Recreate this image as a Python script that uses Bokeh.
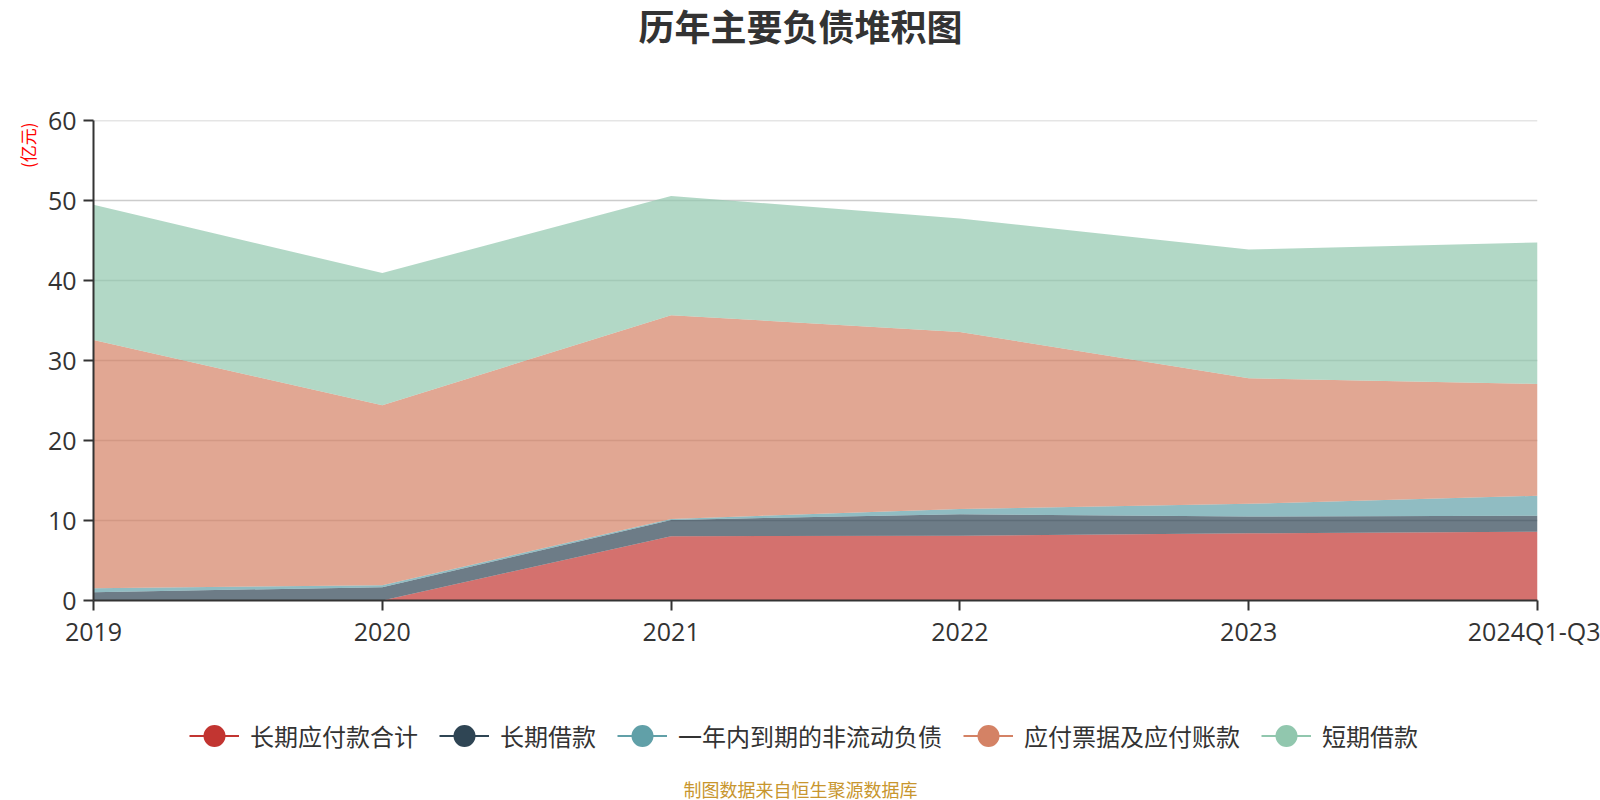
from bokeh.plotting import figure
from bokeh.layouts import column
from bokeh.models import (ColumnDataSource, Range1d, FixedTicker, Legend, LegendItem, Label, Title)
from bokeh.embed import file_html
from bokeh.resources import INLINE

# ---- data (亿元) ----
categories = ["2019", "2020", "2021", "2022", "2023", "2024Q1-Q3"]
series_names = ["长期应付款合计", "长期借款", "一年内到期的非流动负债", "应付票据及应付账款", "短期借款"]
long_term_payables = [0.0, 0.0, 8.05, 8.1, 8.4, 8.6]
long_term_loans = [1.04, 1.67, 2.03, 2.7, 2.1, 2.0]
current_noncurrent = [0.5, 0.25, 0.12, 0.65, 1.6, 2.5]
notes_accounts_payable = [31.06, 22.5, 25.5, 22.15, 15.7, 14.0]
short_term_loans = [16.9, 16.55, 14.9, 14.2, 16.1, 17.7]
colors = ["#c23531", "#2f4554", "#61a0a8", "#d48265", "#91c7ae"]
y_ticks = [0, 10, 20, 30, 40, 50, 60]

W = 1600
LEFT = 93    # frame left edge (frames of the column are aligned)
CJK = "Noto Sans CJK SC"

# ---- header with title ----
head = figure(width=W, height=100, output_backend="svg", toolbar_location=None,
              x_axis_type=None, y_axis_type=None, min_border=0,
              x_range=Range1d(0, 1), y_range=Range1d(0, 1))
head.outline_line_color = None
head.grid.visible = False
head.add_layout(Label(x=800 - LEFT, y=76, x_units="screen", y_units="screen", text="历年主要负债堆积图",
                      text_align="center", text_baseline="middle", text_font=CJK,
                      text_font_size="36px", text_font_style="bold", text_color="#333333"))

# ---- main chart ----
keys = ["s0", "s1", "s2", "s3", "s4"]
xs = list(range(len(categories)))
source = ColumnDataSource(dict(
    x=xs,
    s0=long_term_payables,
    s1=long_term_loans,
    s2=current_noncurrent,
    s3=notes_accounts_payable,
    s4=short_term_loans,
))

p = figure(width=W, height=560, output_backend="svg", toolbar_location=None,
           x_range=Range1d(0, len(categories) - 1), y_range=Range1d(0, 60.05),
           min_border_left=LEFT, min_border_right=63, min_border_top=20, min_border_bottom=60)
p.outline_line_color = None

p.varea_stack(stackers=keys, x="x", color=colors, fill_alpha=0.7, source=source)

p.xaxis.ticker = FixedTicker(ticks=xs)
p.xaxis.major_label_overrides = {i: c for i, c in enumerate(categories)}
p.yaxis.ticker = FixedTicker(ticks=y_ticks)
for ax in (p.xaxis[0], p.yaxis[0]):
    ax.axis_line_color = "#333333"
    ax.axis_line_width = 2
    ax.major_tick_line_color = "#333333"
    ax.major_tick_line_width = 2
    ax.major_tick_in = 0
    ax.major_tick_out = 10
    ax.minor_tick_line_color = None
    ax.major_label_text_font = "Open Sans"
    ax.major_label_text_font_size = "25px"
    ax.major_label_text_color = "#333333"
p.xaxis.major_label_standoff = 3
p.yaxis.major_label_standoff = 7

p.xgrid.grid_line_color = None
p.ygrid.grid_line_color = "#cccccc"
p.ygrid.grid_line_width = 1.5

p.add_layout(Title(text="(亿元)", align="right", offset=2, text_font=CJK, text_font_size="17px",
                   text_font_style="normal", text_color="#ff0000"), "left")

# ---- footer with legend + source note ----
foot = figure(width=W, height=140, output_backend="svg", toolbar_location=None,
              x_axis_type=None, y_axis_type=None, min_border=0,
              x_range=Range1d(0, 1), y_range=Range1d(0, 1))
foot.outline_line_color = None
foot.grid.visible = False
items = []
for name, c in zip(series_names, colors):
    lr = foot.line(x=[-5, -4], y=[-5, -5], line_color=c, line_width=2)
    sr = foot.scatter(x=[-5], y=[-5], marker="circle", fill_color=c, line_color=c, line_width=2)
    items.append(LegendItem(label=name, renderers=[lr, sr]))
legend = Legend(items=items, orientation="horizontal", location=(189 - LEFT, 37),
                glyph_width=50, glyph_height=55, label_standoff=11, spacing=21,
                padding=0, margin=0, border_line_color=None, background_fill_alpha=0,
                label_text_font=CJK, label_text_font_size="24px",
                label_text_color="#333333")
foot.add_layout(legend, "center")
foot.add_layout(Label(x=800 - LEFT, y=12, x_units="screen", y_units="screen", text="制图数据来自恒生聚源数据库",
                      text_align="center", text_baseline="middle", text_font=CJK,
                      text_font_size="18px", text_color="#c8962e"))

layout = column(head, p, foot, spacing=0)
open("out.html", "w").write(file_html(layout, INLINE))
